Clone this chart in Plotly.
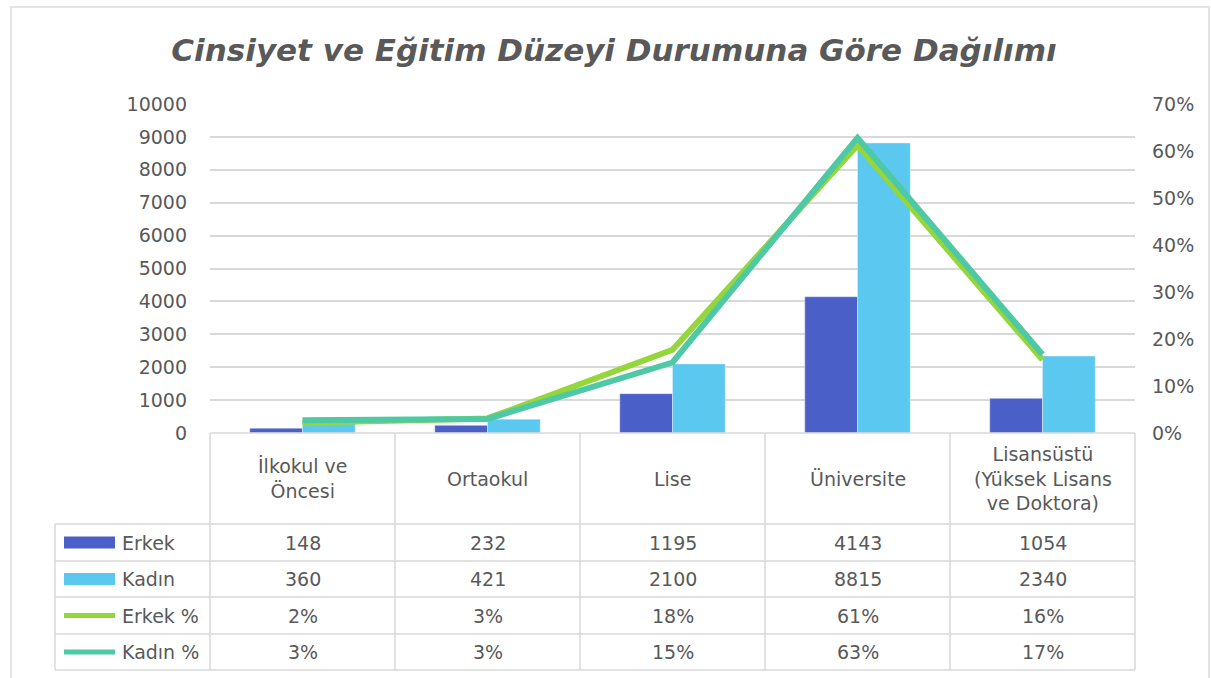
import plotly.graph_objects as go

categories = ["İlkokul ve<br>Öncesi", "Ortaokul", "Lise", "Üniversite",
              "Lisansüstü<br>(Yüksek Lisans<br>ve Doktora)"]
erkek = [148, 232, 1195, 4143, 1054]
kadin = [360, 421, 2100, 8815, 2340]
erkek_pct = [0.022, 0.031, 0.177, 0.612, 0.156]
kadin_pct = [0.027, 0.030, 0.150, 0.628, 0.167]
erkek_pct_lbl = ["2%", "3%", "18%", "61%", "16%"]
kadin_pct_lbl = ["3%", "3%", "15%", "63%", "17%"]
left_ticks = list(range(0, 10001, 1000))
left_tick_lbl = [str(v) for v in left_ticks]
right_ticks = [0, 0.1, 0.2, 0.3, 0.4, 0.5, 0.6, 0.7]

C_ERKEK = "#4a5fc8"
C_KADIN = "#5bc8f0"
C_ERKEK_P = "#95d63a"
C_KADIN_P = "#4fc8a6"
TXT = "#595959"
GRID = "#d9d9d9"
FONT = "DejaVu Sans"

W, H = 1211, 678
L, R, T, B = 210, 1135, 104, 433  # plot area in pixels

def px(xp):
    return (xp - L) / (R - L)

def py(yp):
    return (B - yp) / (B - T)

x = list(range(len(categories)))

fig = go.Figure()
fig.add_trace(go.Bar(x=x, y=erkek, name="Erkek", marker_color=C_ERKEK))
fig.add_trace(go.Bar(x=x, y=kadin, name="Kadın", marker_color=C_KADIN))
fig.add_trace(go.Scatter(x=x, y=erkek_pct, name="Erkek %", mode="lines",
                         line=dict(color=C_ERKEK_P, width=6), yaxis="y2"))
fig.add_trace(go.Scatter(x=x, y=kadin_pct, name="Kadın %", mode="lines",
                         line=dict(color=C_KADIN_P, width=6), yaxis="y2"))

shapes = []
annotations = []

# outer frame
shapes.append(dict(type="rect", xref="paper", yref="paper",
                   x0=px(11), x1=px(1209), y0=py(690), y1=py(7),
                   line=dict(color="#e3e3e3", width=2), layer="below"))

# table geometry (pixels)
col_edges = [L + i * (R - L) / 5 for i in range(6)]
row_edges = [433, 524, 561, 597, 634, 670]
tab_left = 55

def hline(x0, x1, y):
    shapes.append(dict(type="line", xref="paper", yref="paper",
                       x0=px(x0), x1=px(x1), y0=py(y), y1=py(y),
                       line=dict(color=GRID, width=1.5)))

def vline(xx, y0, y1):
    shapes.append(dict(type="line", xref="paper", yref="paper",
                       x0=px(xx), x1=px(xx), y0=py(y0), y1=py(y1),
                       line=dict(color=GRID, width=1.5)))

hline(L, R, row_edges[0])
for yv in row_edges[1:]:
    hline(tab_left, R, yv)
for xv in col_edges:
    vline(xv, row_edges[0], row_edges[-1])
vline(tab_left, row_edges[1], row_edges[-1])

# header labels
for i, c in enumerate(categories):
    annotations.append(dict(x=i, xref="x", y=py((row_edges[0] + row_edges[1]) / 2),
                            yref="paper", text=c, showarrow=False,
                            font=dict(family=FONT, size=19, color=TXT),
                            xanchor="center", yanchor="middle", align="center"))

rows = [
    ("Erkek", [str(v) for v in erkek], "bar", C_ERKEK),
    ("Kadın", [str(v) for v in kadin], "bar", C_KADIN),
    ("Erkek %", erkek_pct_lbl, "line", C_ERKEK_P),
    ("Kadın %", kadin_pct_lbl, "line", C_KADIN_P),
]
for r, (name, vals, kind, col) in enumerate(rows):
    yc = (row_edges[r + 1] + row_edges[r + 2]) / 2
    if kind == "bar":
        shapes.append(dict(type="rect", xref="paper", yref="paper",
                           x0=px(64), x1=px(115), y0=py(yc + 6), y1=py(yc - 6),
                           fillcolor=col, line=dict(width=0)))
    else:
        shapes.append(dict(type="line", xref="paper", yref="paper",
                           x0=px(64), x1=px(115), y0=py(yc), y1=py(yc),
                           line=dict(color=col, width=5)))
    annotations.append(dict(x=px(120), xref="paper", y=py(yc), yref="paper",
                            text=name, showarrow=False,
                            font=dict(family=FONT, size=19, color=TXT),
                            xanchor="left", yanchor="middle"))
    for i, v in enumerate(vals):
        annotations.append(dict(x=i, xref="x", y=py(yc), yref="paper",
                                text=v, showarrow=False,
                                font=dict(family=FONT, size=19, color=TXT),
                                xanchor="center", yanchor="middle"))

fig.update_layout(
    width=W, height=H,
    margin=dict(l=L, r=W - R, t=T, b=H - B, pad=0),
    paper_bgcolor="white", plot_bgcolor="white",
    showlegend=False,
    barmode="group", bargap=0.43, bargroupgap=0,
    title=dict(text="<b><i>Cinsiyet ve Eğitim Düzeyi Durumuna Göre Dağılımı</i></b>",
               x=0.507, xanchor="center", y=1 - 50 / H, yanchor="middle",
               font=dict(family=FONT, size=31, color=TXT)),
    xaxis=dict(range=[-0.5, 4.5], showticklabels=False, showgrid=False,
               zeroline=False, showline=False, ticks=""),
    yaxis=dict(range=[0, 10000], tickvals=left_ticks, ticktext=left_tick_lbl,
               showgrid=True, gridcolor=GRID, gridwidth=1.5, zeroline=False,
               showline=False, tickfont=dict(family=FONT, size=19, color=TXT),
               ticks="", ticklabelstandoff=22),
    yaxis2=dict(range=[0, 0.7], tickvals=right_ticks, overlaying="y", side="right",
                tickformat=".0%", showgrid=False, zeroline=False, showline=False,
                tickfont=dict(family=FONT, size=19, color=TXT),
                ticks="", ticklabelstandoff=16),
    shapes=shapes, annotations=annotations,
)

fig.write_html("out.html", config={"displayModeBar": False},
               post_script="document.body.style.margin='0';document.body.style.overflow='hidden';")
